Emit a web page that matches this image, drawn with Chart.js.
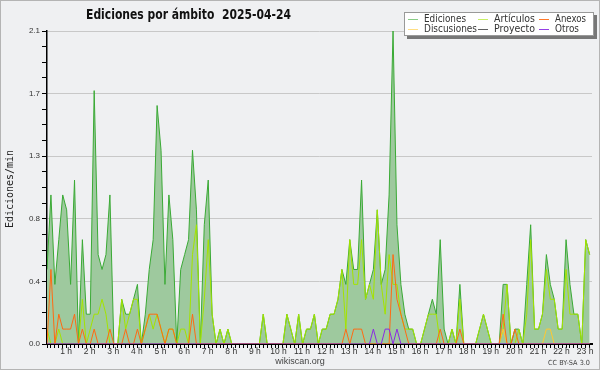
<!DOCTYPE html>
<html>
<head>
<meta charset="utf-8">
<script src="https://cdn.jsdelivr.net/npm/chart.js@4.4.1/dist/chart.umd.min.js"></script>
<style>
    html, body { margin: 0; padding: 0; background: #eff0f2; }
    canvas { display: block; }
</style>
</head>
<body>
<canvas id="chart" width="600" height="370"></canvas>
<script>
// one value every 10 minutes, from 00:00 to 23:00 (edits per minute)
const ediciones = [
    0.5, 1.0, 0.4, 0.7, 1.0, 0.9, 0.4, 1.1, 0, 0.7, 0.2, 0.2,
    1.7, 0.6, 0.5, 0.6, 1.0, 0, 0, 0.3, 0.2, 0.2, 0.3, 0.4,
    0, 0.2, 0.5, 0.7, 1.6, 1.3, 0.4, 1.0, 0.7, 0, 0.5, 0.6,
    0.7, 1.3, 0.9, 0, 0.8, 1.1, 0.2, 0, 0.1, 0, 0.1, 0,
    0, 0, 0, 0, 0, 0, 0, 0.2, 0, 0, 0, 0,
    0, 0.2, 0.1, 0, 0.2, 0, 0.1, 0.1, 0.2, 0, 0.1, 0.1,
    0.2, 0.2, 0.3, 0.5, 0.4, 0.7, 0.5, 0.5, 1.1, 0.3, 0.4, 0.5,
    0.9, 0.4, 0.5, 1.0, 2.1, 0.8, 0.4, 0.2, 0.1, 0.1, 0, 0,
    0.1, 0.2, 0.3, 0.2, 0.7, 0.1, 0, 0.1, 0, 0.4, 0, 0,
    0, 0, 0.1, 0.2, 0.1, 0, 0, 0, 0.4, 0.4, 0, 0.1,
    0.1, 0, 0.4, 0.8, 0.1, 0.1, 0.2, 0.6, 0.4, 0.3, 0.1, 0.1,
    0.7, 0.4, 0.2, 0.2, 0, 0.7, 0.6
];
const articulos = [
    0.1, 0, 0, 0.1, 0, 0, 0, 0, 0, 0.3, 0, 0.1,
    0.2, 0.2, 0.3, 0.2, 0, 0, 0, 0.3, 0.1, 0.2, 0.3, 0.3,
    0, 0.1, 0.2, 0.1, 0.2, 0.1, 0, 0.1, 0.1, 0, 0.1, 0.1,
    0, 0.6, 0.8, 0, 0.3, 0.7, 0.2, 0, 0.1, 0, 0.1, 0,
    0, 0, 0, 0, 0, 0, 0, 0.2, 0, 0, 0, 0,
    0, 0.2, 0.1, 0, 0.2, 0, 0.1, 0.1, 0.2, 0, 0.1, 0.1,
    0.2, 0.2, 0.3, 0.5, 0.1, 0.7, 0.4, 0.4, 0.7, 0.3, 0.4, 0.3,
    0.9, 0.4, 0.2, 0.6, 0.4, 0.4, 0.2, 0.1, 0.1, 0.1, 0, 0,
    0.1, 0.2, 0.2, 0.2, 0, 0, 0, 0.1, 0, 0.3, 0, 0,
    0, 0, 0.1, 0.2, 0.1, 0, 0, 0, 0.1, 0.4, 0, 0,
    0.1, 0, 0.2, 0.7, 0.1, 0.1, 0.2, 0.5, 0.3, 0.3, 0.1, 0.1,
    0.5, 0.2, 0.2, 0.2, 0, 0.7, 0.6
];
// sparse series: index -> value, everything else is zero
const anexosAt = { 1: 0.5, 3: 0.2, 4: 0.1, 5: 0.1, 6: 0.1, 7: 0.2, 9: 0.1, 12: 0.1, 16: 0.1, 20: 0.1,
    23: 0.1, 25: 0.1, 26: 0.2, 27: 0.2, 28: 0.2, 29: 0.1, 31: 0.1, 32: 0.1, 37: 0.2,
    76: 0.1, 78: 0.1, 79: 0.1, 80: 0.1, 88: 0.6, 89: 0.3, 90: 0.2, 91: 0.1,
    100: 0.1, 105: 0.1, 116: 0.2, 119: 0.1 };
const discusionesAt = { 116: 0.1, 127: 0.1, 128: 0.1 };
const proyectoAt = {};
const otrosAt = { 83: 0.1, 86: 0.1, 87: 0.1, 89: 0.1 };

const hourLabels = ['1 h', '2 h', '3 h', '4 h', '5 h', '6 h', '7 h', '8 h', '9 h', '10 h', '11 h', '12 h',
    '13 h', '14 h', '15 h', '16 h', '17 h', '18 h', '19 h', '20 h', '21 h', '22 h', '23 h'];
const yTickLabels = ['0.0', '0.4', '0.8', '1.3', '1.7', '2.1'];

const legendNames = ['Ediciones', 'Artículos', 'Anexos', 'Discusiones', 'Proyecto', 'Otros'];

const N = ediciones.length;
const dense = m => Array.from({ length: N }, (_, i) => m[i] || 0);
const pts = arr => arr.map((v, i) => ({ x: i, y: v }));

const colors = {
    ediciones: '#3aaa35',
    articulos: '#a4e400',
    anexos: '#ff6a13',
    discusiones: '#ffc830',
    proyecto: '#505050',
    otros: '#8a2be2'
};

const line = (label, data, color, order) => ({
    label, data: pts(data), borderColor: color, borderWidth: 1,
    pointRadius: 0, tension: 0, fill: false, order
});

const datasets = [
    Object.assign(line(legendNames[0], ediciones, colors.ediciones, 6), {
        fill: 'origin', backgroundColor: 'rgb(158,201,158)'
    }),
    line(legendNames[1], articulos, colors.articulos, 5),
    line(legendNames[3], dense(discusionesAt), colors.discusiones, 4),
    line(legendNames[4], dense(proyectoAt), colors.proyecto, 3),
    line(legendNames[2], dense(anexosAt), colors.anexos, 2),
    line(legendNames[5], dense(otrosAt), colors.otros, 1)
];

const decor = {
    id: 'decor',
    beforeDraw: (chart) => {
        const { ctx, width, height } = chart;
        ctx.save();
        ctx.fillStyle = '#eff0f2';
        ctx.fillRect(0, 0, width, height);
        ctx.restore();
    },
    afterDraw: (chart) => {
        const { ctx, width, height } = chart;
        ctx.save();

        // title
        ctx.fillStyle = '#111';
        ctx.font = 'bold 14px "DejaVu Sans"';
        ctx.textBaseline = 'alphabetic';
        ctx.textAlign = 'left';
        ctx.fillText('Ediciones por ámbito  2025-04-24', 86, 18.5, 205);

        // y axis title
        ctx.save();
        ctx.translate(10, 189);
        ctx.rotate(-Math.PI / 2);
        ctx.font = '11px "DejaVu Sans Mono"';
        ctx.textAlign = 'center';
        ctx.textBaseline = 'middle';
        ctx.fillStyle = '#222';
        ctx.fillText('Ediciones/min', 0, 0, 78);
        ctx.restore();

        // legend box with shadow
        ctx.fillStyle = '#777';
        ctx.fillRect(407, 15, 190, 24);
        ctx.fillStyle = '#fff';
        ctx.fillRect(404, 12, 190, 24);
        ctx.strokeStyle = '#999';
        ctx.lineWidth = 1;
        ctx.strokeRect(404.5, 12.5, 189, 23);

        const cols = [408, 478, 539];
        const rows = [19, 29];
        const widths = [42, 41, 31, 53, 41, 24];
        const legendColors = [colors.ediciones, colors.articulos, colors.anexos,
            colors.discusiones, colors.proyecto, colors.otros];
        ctx.font = '10px "DejaVu Sans"';
        ctx.textBaseline = 'middle';
        ctx.textAlign = 'left';
        legendNames.forEach((name, k) => {
            const x = cols[k % 3], y = rows[Math.floor(k / 3)];
            ctx.strokeStyle = legendColors[k];
            ctx.globalAlpha = k === 0 || k === 1 || k === 3 ? 0.6 : 0.9;
            ctx.beginPath();
            ctx.moveTo(x, y + 0.5);
            ctx.lineTo(x + 10, y + 0.5);
            ctx.stroke();
            ctx.globalAlpha = 1;
            ctx.fillStyle = '#333';
            ctx.fillText(name, x + 16, y, widths[k]);
        });

        // footer texts
        ctx.fillStyle = '#444';
        ctx.font = '9px "Liberation Sans"';
        ctx.textAlign = 'center';
        ctx.fillText('wikiscan.org', 300, 362);
        ctx.font = '7px "DejaVu Sans"';
        ctx.textAlign = 'right';
        ctx.fillText('CC BY-SA 3.0', 590, 363, 42);

        // frame
        ctx.strokeStyle = '#b4b4b4';
        ctx.strokeRect(0.5, 0.5, width - 1, height - 1);
        ctx.restore();
    }
};

new Chart(document.getElementById('chart'), {
    type: 'line',
    data: { datasets },
    options: {
        responsive: false,
        animation: false,
        devicePixelRatio: 1,
        layout: { padding: { top: 31, right: 8, left: 0, bottom: 0 } },
        plugins: { legend: { display: false }, title: { display: false }, tooltip: { enabled: false } },
        scales: {
            x: {
                type: 'linear',
                min: 0,
                max: 138.6,
                z: 1,
                afterFit: s => { s.height = 26; },
                afterBuildTicks: s => { s.ticks = Array.from({ length: N }, (_, k) => ({ value: k })); },
                ticks: {
                    autoSkip: false,
                    maxRotation: 0,
                    minRotation: 0,
                    padding: -1,
                    labelOffset: -4.5,
                    color: '#333',
                    font: { family: 'Liberation Sans', size: 8.5 },
                    callback: v => (v > 0 && v % 6 === 0) ? hourLabels[v / 6 - 1] : ''
                },
                grid: { drawOnChartArea: false, tickLength: 4, tickColor: '#000', tickWidth: 1 },
                border: { color: '#000', width: 2 }
            },
            y: {
                min: 0,
                max: 2.1,
                afterFit: s => { s.width = 47; },
                afterBuildTicks: s => { s.ticks = Array.from({ length: 21 }, (_, k) => ({ value: k * 0.105 })); },
                ticks: {
                    autoSkip: false,
                    padding: 2,
                    color: '#333',
                    font: { family: 'Liberation Sans', size: 8 },
                    callback: (v, idx) => idx % 4 === 0 ? yTickLabels[idx / 4] : ''
                },
                grid: {
                    color: c => c.index % 4 === 0 ? '#c8c8c8' : 'rgba(0,0,0,0)',
                    tickColor: '#000',
                    tickLength: 5,
                    lineWidth: 1
                },
                border: { color: '#000', width: 1.5 }
            }
        }
    },
    plugins: [decor]
});
</script>
</body>
</html>
